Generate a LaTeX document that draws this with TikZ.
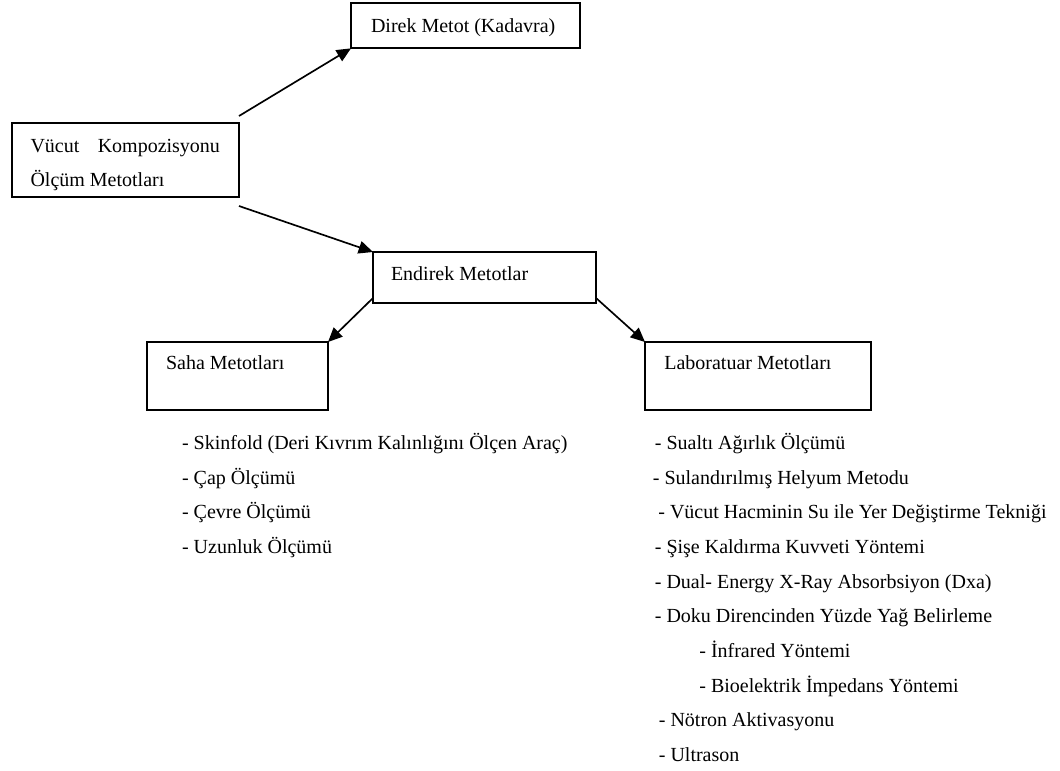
\documentclass[tikz,border=0pt]{standalone}
\usepackage{fontspec}
\setmainfont{Liberation Serif}
\usetikzlibrary{arrows.meta,calc}
\begin{document}
\begin{tikzpicture}[x=0.6pt,y=-0.6pt,
  font=\fontsize{12pt}{14pt}\selectfont,
  box/.style={draw,line width=1.2pt,anchor=north west,inner ysep=0pt,outer sep=0pt},
  item/.style={anchor=base west,inner sep=0pt},
  conn/.style={line width=1pt,-{Triangle[length=8.6pt,width=7.6pt]}}]
\useasboundingbox (0,0) rectangle (1060,770);

\node[box,inner xsep=12pt,text height=17.6pt,text depth=9.6pt] (direk) at (351,3)
  {\makebox[113.4pt][l]{Direk Metot (Kadavra)}};
\node[box,inner xsep=11.4pt,text height=17.4pt,text depth=27pt] (vucut) at (11.5,123)
  {\vtop{\baselineskip=20.4pt\hbox to 113.7pt{Vücut\hfill Kompozisyonu}\hbox{Ölçüm Metotları}}};
\node[box,inner xsep=10.8pt,text height=17.1pt,text depth=13.5pt] (endirek) at (373,252)
  {\makebox[112.2pt][l]{Endirek Metotlar}};
\node[box,inner xsep=11.4pt,text height=16.5pt,text depth=24pt] (saha) at (147,342)
  {\makebox[85.8pt][l]{Saha Metotları}};
\node[box,inner xsep=11.6pt,text height=16.5pt,text depth=24pt] (lab) at (645,342)
  {\makebox[112.4pt][l]{Laboratuar Metotları}};

\draw[conn] ($(vucut.north east)+(0,-7)$) -- (direk.south west);
\draw[conn] ($(vucut.south east)+(0,9)$) -- (endirek.north west);
\draw[conn] ($(endirek.south west)+(0,-5)$) -- (saha.north east);
\draw[conn] ($(endirek.south east)+(0,-5)$) -- (lab.north west);

\node[item] (s1) at (181.7,449.3) {- Skinfold (Deri Kıvrım Kalınlığını Ölçen Araç)};
\node[item] (s2) at (181.7,484.0) {- Çap Ölçümü};
\node[item] (s3) at (181.7,518.7) {- Çevre Ölçümü};
\node[item] (s4) at (181.7,553.4) {- Uzunluk Ölçümü};

\node[item] (l1) at (654.5,449.3) {- Sualtı Ağırlık Ölçümü};
\node[item] (l2) at (652.5,484.0) {- Sulandırılmış Helyum Metodu};
\node[item] (l3) at (658.0,518.7) {- Vücut Hacminin Su ile Yer Değiştirme Tekniği};
\node[item] (l4) at (654.5,553.4) {- Şişe Kaldırma Kuvveti Yöntemi};
\node[item] (l5) at (654.5,588.1) {- Dual- Energy X-Ray Absorbsiyon (Dxa)};
\node[item] (l6) at (654.5,622.8) {- Doku Direncinden Yüzde Yağ Belirleme};
\node[item] (l7) at (699.0,657.5) {- İnfrared Yöntemi};
\node[item] (l8) at (699.0,692.2) {- Bioelektrik İmpedans Yöntemi};
\node[item] (l9) at (658.5,726.9) {- Nötron Aktivasyonu};
\node[item] (l10) at (658.5,761.6) {- Ultrason};
\end{tikzpicture}
\end{document}
